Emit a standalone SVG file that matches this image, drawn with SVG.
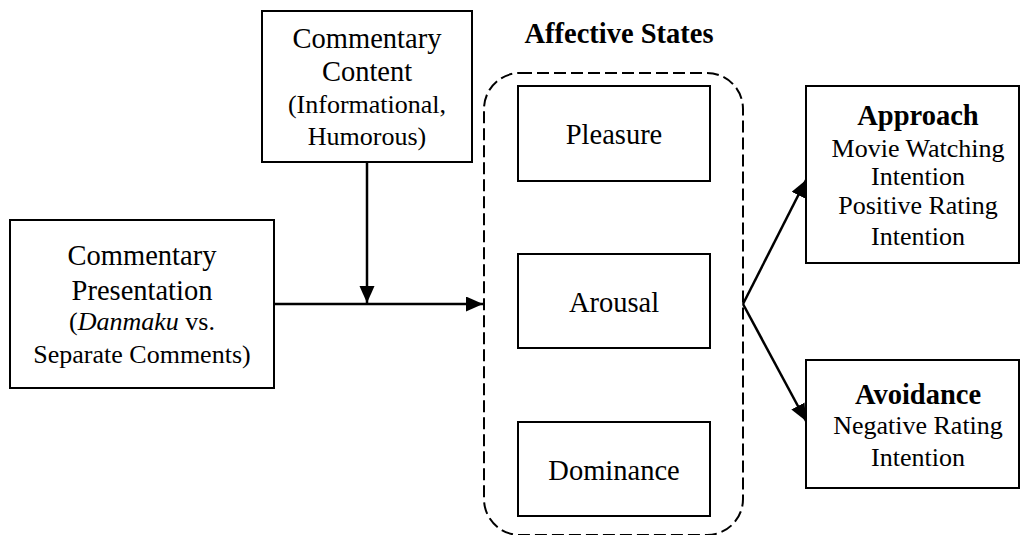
<svg xmlns="http://www.w3.org/2000/svg" width="1020" height="535" viewBox="0 0 1020 535">
<style>
.box{fill:#fff;stroke:#000;stroke-width:2}
.t{font-family:"Liberation Serif","Times New Roman",serif;fill:#000;text-anchor:middle}
.big{font-size:28.5px}
.sm{font-size:26px}
.b{font-weight:bold;font-size:28.5px}
.conn{stroke:#000;stroke-width:2.5;fill:none}
</style>
<defs>
<marker id="ah" markerUnits="userSpaceOnUse" markerWidth="18" markerHeight="16" refX="17" refY="7.5" orient="auto" viewBox="0 0 18 16">
<path d="M0,0 L17,7.5 L0,15 z" fill="#000"/>
</marker>
</defs>
<rect width="1020" height="535" fill="#fff"/>
<g id="group-affective">
<rect x="484" y="73" width="259" height="462" rx="36" ry="36" fill="none" stroke="#000" stroke-width="2" stroke-dasharray="12,5"/>
<text class="t b" x="619" y="43">Affective States</text>
</g>
<g id="node-content">
<rect class="box" x="262" y="11" width="210" height="151"/>
<text class="t big" x="367" y="48">Commentary</text>
<text class="t big" x="367" y="81">Content</text>
<text class="t sm" x="367" y="113">(Informational,</text>
<text class="t sm" x="367" y="145">Humorous)</text>
</g>
<g id="node-presentation">
<rect class="box" x="10" y="220" width="264" height="168"/>
<text class="t big" x="142" y="265">Commentary</text>
<text class="t big" x="142" y="300">Presentation</text>
<text class="t sm" x="142" y="330">(<tspan font-style="italic">Danmaku</tspan> vs.</text>
<text class="t sm" x="142" y="363">Separate Comments)</text>
</g>
<g id="node-pleasure">
<rect class="box" x="518" y="86" width="192" height="95"/>
<text class="t big" x="614" y="144">Pleasure</text>
</g>
<g id="node-arousal">
<rect class="box" x="518" y="254" width="192" height="94"/>
<text class="t big" x="614" y="312">Arousal</text>
</g>
<g id="node-dominance">
<rect class="box" x="518" y="422" width="192" height="94"/>
<text class="t big" x="614" y="480">Dominance</text>
</g>
<g id="node-approach">
<rect class="box" x="806" y="86" width="213" height="177"/>
<text class="t b" x="918" y="125">Approach</text>
<text class="t sm" x="918" y="157">Movie Watching</text>
<text class="t sm" x="918" y="185">Intention</text>
<text class="t sm" x="918" y="214">Positive Rating</text>
<text class="t sm" x="918" y="245">Intention</text>
</g>
<g id="node-avoidance">
<rect class="box" x="806" y="360" width="213" height="128"/>
<text class="t b" x="918" y="404">Avoidance</text>
<text class="t sm" x="918" y="434">Negative Rating</text>
<text class="t sm" x="918" y="466">Intention</text>
</g>
<g id="connectors">
<line class="conn" x1="274" y1="304" x2="483" y2="304" marker-end="url(#ah)"/>
<line class="conn" x1="367" y1="162" x2="367" y2="303" marker-end="url(#ah)"/>
<line class="conn" x1="743" y1="304" x2="806" y2="180" marker-end="url(#ah)"/>
<line class="conn" x1="743" y1="304" x2="806" y2="421" marker-end="url(#ah)"/>
</g>
</svg>
